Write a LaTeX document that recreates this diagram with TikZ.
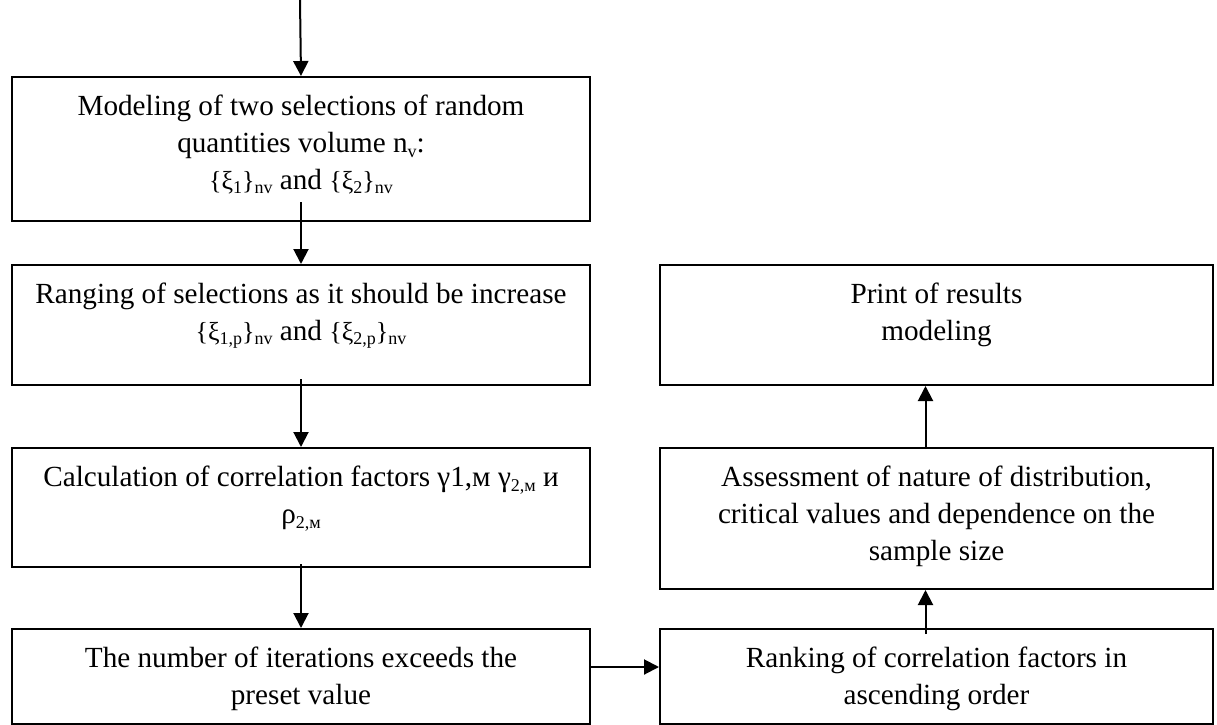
\documentclass[tikz,border=0pt]{standalone}
\usepackage{fontspec}
\setmainfont{Liberation Serif}
\usetikzlibrary{arrows.meta}

\newcommand{\lowsub}[1]{\raisebox{-0.4ex}{\fontsize{9}{9}\selectfont #1}}
\newcommand{\toptext}[3]{\parbox[t][#2][t]{#1}{\centering\rule{0pt}{19pt}#3}}

\begin{document}
\begin{tikzpicture}[x=0.5pt, y=-0.5pt,
    box/.style={draw, line width=1pt, anchor=north west, inner sep=0pt,
      font=\fontsize{14.6}{18.5}\selectfont},
    arr/.style={line width=1pt, -{Triangle[length=7.5pt,width=7.5pt]}}]
    \def\wl{289pt}    % width of the left boxes
    \def\wr{276.5pt}  % width of the right boxes

    \useasboundingbox (0,0) rectangle (1217,724);

    % Left column
    \node[box] (model) at (11,76) {\toptext{\wl}{72pt}{Modeling of two selections of random\\
      quantities volume n\lowsub{v}:\\
      {\fontsize{13}{18}\selectfont\{ξ\lowsub{1}\}\lowsub{nv}} and {\fontsize{13}{18}\selectfont\{ξ\lowsub{2}\}\lowsub{nv}}}};
    \node[box] (range) at (11,264) {\toptext{\wl}{60pt}{Ranging of selections as it should be increase\\
      {\fontsize{13}{18}\selectfont\{ξ\lowsub{1,p}\}\lowsub{nv}} and {\fontsize{13}{18}\selectfont\{ξ\lowsub{2,p}\}\lowsub{nv}}}};
    \node[box] (calc) at (11,447) {\toptext{\wl}{59.5pt}{Calculation of correlation factors γ1,м γ\lowsub{2,м} и\\
      ρ\lowsub{2,м}}};
    \node[box] (iter) at (11,628) {\toptext{\wl}{47.5pt}{The number of iterations exceeds the\\
      preset value}};

    % Right column
    \node[box] (print) at (659,264) {\toptext{\wr}{60pt}{Print of results\\ modeling}};
    \node[box] (assess) at (659,447) {\toptext{\wr}{70.5pt}{Assessment of nature of distribution,\\
      critical values and dependence on the\\ sample size}};
    \node[box] (rank) at (659,628) {\toptext{\wr}{47.5pt}{Ranking of correlation factors in\\
      ascending order}};

    % Arrows
    \coordinate (start) at (300,0);
    \draw[arr] (start) -- (model.north);
    \draw[arr] ([yshift=10pt]model.south) -- (range.north);
    \draw[arr] ([yshift=3.5pt]range.south) -- (calc.north);
    \draw[arr] ([yshift=2pt]calc.south) -- (iter.north);
    \draw[arr] (iter.base east) -- (rank.base west);
    \draw[arr] ([xshift=-5.5pt,yshift=-3pt]rank.north) -- ([xshift=-5.5pt]assess.south);
    \draw[arr] ([xshift=-5.5pt,yshift=-1pt]assess.north) -- ([xshift=-5.5pt]print.south);
\end{tikzpicture}
\end{document}
